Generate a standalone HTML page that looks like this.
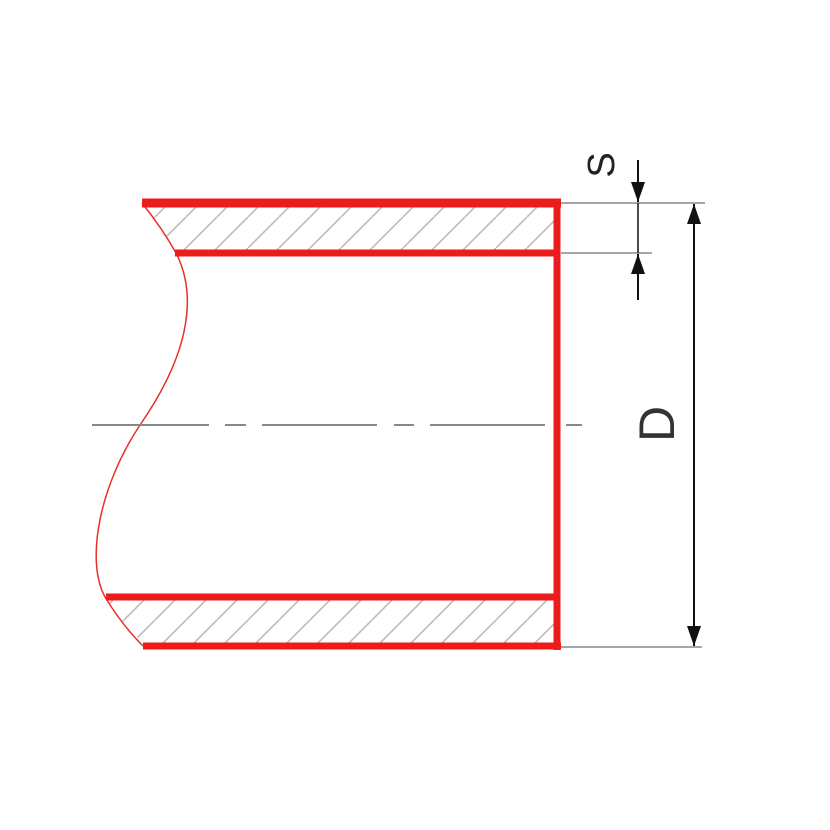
<!DOCTYPE html>
<html><head><style>html,body{margin:0;padding:0;background:#fff}svg{display:block}</style></head>
<body>
<svg width="830" height="830" viewBox="0 0 830 830" xmlns="http://www.w3.org/2000/svg">
<defs>
<pattern id="h" patternUnits="userSpaceOnUse" width="31" height="31">
<line x1="0" y1="31" x2="31" y2="0" stroke="#bbb" stroke-width="1.6"/>
<line x1="-31" y1="31" x2="0" y2="0" stroke="#bbb" stroke-width="1.6"/>
<line x1="31" y1="31" x2="62" y2="0" stroke="#bbb" stroke-width="1.6"/>
</pattern>
<marker id="a" viewBox="0 0 20 14" refX="20" refY="7" markerWidth="20" markerHeight="14" markerUnits="userSpaceOnUse" orient="auto"><path d="M0,0 L20,7 L0,14 z" fill="#111"/></marker>
</defs>
<path d="M146,207 Q162,228 176,250 L556,250 L556,207 Z" fill="url(#h)"/>
<path d="M108,600 Q122,624 144,643 L556,643 L556,600 Z" fill="url(#h)"/>
<path d="M142,203 Q162,228 176,253 C200,300 185,360 140,425 C100,485 85,560 105,597 Q122,625 143,646" fill="none" stroke="#e8302a" stroke-width="1.5"/>
<path d="M92,425 H209 M225,425 H246 M262,425 H377 M394,425 H414 M430,425 H545 M566,425 H582" stroke="#888" stroke-width="2"/>
<g stroke="#ec1c1c" stroke-linecap="butt">
<line x1="142" y1="203" x2="561" y2="203" stroke-width="9"/>
<line x1="175" y1="253" x2="558" y2="253" stroke-width="7"/>
<line x1="106" y1="597" x2="558" y2="597" stroke-width="7"/>
<line x1="143" y1="646" x2="561" y2="646" stroke-width="7"/>
<line x1="557" y1="199" x2="557" y2="650" stroke-width="7"/>
</g>
<g stroke="#888" stroke-width="1.5">
<line x1="561" y1="203" x2="705" y2="203"/>
<line x1="561" y1="253" x2="652" y2="253"/>
<line x1="561" y1="647" x2="702" y2="647"/>
</g>
<g stroke="#111" stroke-width="2">
<line x1="638" y1="160" x2="638" y2="202" marker-end="url(#a)"/>
<line x1="638" y1="300" x2="638" y2="254" marker-end="url(#a)"/>
<line x1="638" y1="203" x2="638" y2="253" stroke-width="1.5"/>
<line x1="694" y1="300" x2="694" y2="204" marker-end="url(#a)"/>
<line x1="694" y1="300" x2="694" y2="646" marker-end="url(#a)"/>
</g>
<text transform="translate(614,165) rotate(-90)" text-anchor="middle" font-family="Liberation Sans, sans-serif" font-size="38" fill="#222">S</text>
<text transform="translate(674,424) rotate(-90)" text-anchor="middle" font-family="Liberation Sans, sans-serif" font-size="50" fill="#333">D</text>
</svg>
</body></html>
